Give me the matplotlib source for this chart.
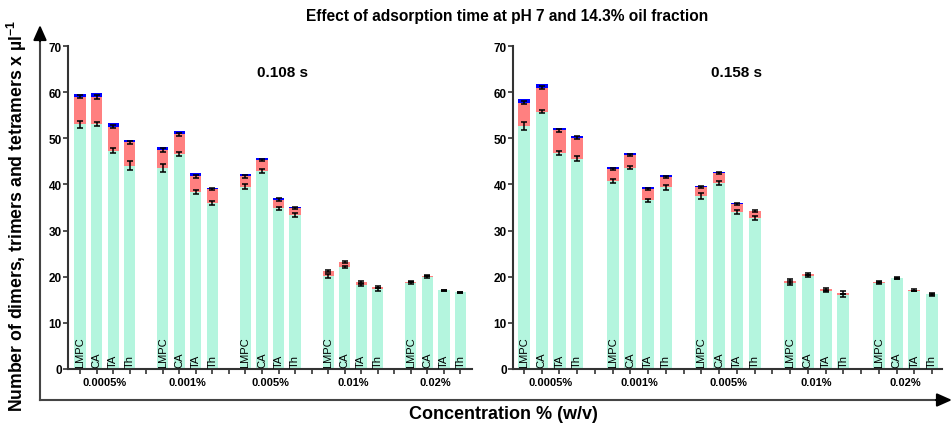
import matplotlib
matplotlib.use("Agg")
import numpy as np
import matplotlib.pyplot as plt

plt.rcParams["font.family"] = ["Liberation Sans", "DejaVu Sans"]
plt.rcParams["mathtext.fontset"] = "custom"
plt.rcParams["mathtext.rm"] = "Liberation Sans"
plt.rcParams["mathtext.bf"] = "Liberation Sans:bold"

# 資料
groups = ["0.0005%", "0.001%", "0.005%", "0.01%", "0.02%"]
surfactants = ["LMPC", "CA", "TA", "Th"]

# 0.108 s
dimers_108 = [53.0, 53.1, 47.3, 44.1, 43.6, 46.6, 38.4, 36.0, 39.5, 42.9, 34.8, 33.4,
              20.2, 22.1, 18.2, 17.3, 18.7, 19.9, 17.1, 16.6]
trimers_108 = [6.0, 5.9, 5.2, 5.0, 3.9, 4.3, 3.4, 3.0, 2.3, 2.4, 1.9, 1.5,
               1.0, 1.1, 0.7, 0.5, 0.2, 0.3, 0.0, 0.0]
tetramers_108 = [0.6, 0.8, 0.8, 0.5, 0.6, 0.7, 0.7, 0.2, 0.5, 0.4, 0.4, 0.2,
                 0.0, 0.0, 0.0, 0.0, 0.0, 0.0, 0.0, 0.0]
dimers_err_108 = [0.8, 0.5, 0.5, 0.9, 0.8, 0.5, 0.4, 0.4, 0.5, 0.5, 0.4, 0.4,
                  0.4, 0.3, 0.3, 0.3, 0.2, 0.2, 0.1, 0.1]
total_err_108 = [0.3, 0.4, 0.3, 0.3, 0.4, 0.3, 0.3, 0.2, 0.3, 0.3, 0.3, 0.2,
                 0.2, 0.2, 0.2, 0.2, 0.1, 0.1, 0.1, 0.1]

# 0.158 s
dimers_158 = [52.7, 55.8, 46.8, 45.6, 40.7, 43.6, 36.6, 39.4, 37.5, 40.3, 34.0, 32.7,
              18.6, 20.2, 16.9, 16.0, 18.6, 19.7, 16.9, 16.2]
trimers_158 = [5.0, 5.2, 4.9, 4.5, 2.6, 2.8, 2.4, 2.2, 1.9, 2.2, 1.8, 1.5,
               0.5, 0.4, 0.4, 0.5, 0.2, 0.0, 0.2, 0.0]
tetramers_158 = [0.8, 0.8, 0.5, 0.4, 0.5, 0.4, 0.4, 0.4, 0.3, 0.2, 0.2, 0.0,
                 0.0, 0.0, 0.0, 0.0, 0.0, 0.0, 0.0, 0.0]
dimers_err_158 = [0.8, 0.4, 0.4, 0.5, 0.4, 0.3, 0.3, 0.5, 0.6, 0.4, 0.4, 0.5,
                  0.4, 0.2, 0.3, 0.3, 0.2, 0.2, 0.1, 0.3]
total_err_158 = [0.3, 0.3, 0.4, 0.3, 0.2, 0.2, 0.2, 0.3, 0.2, 0.2, 0.2, 0.2,
                 0.4, 0.2, 0.3, 0.3, 0.2, 0.1, 0.2, 0.1]

GREEN = "#b4f5de"
RED = "#ff8080"
BLUE = "#0000ff"
AXIS_COLOR = "#333333"


def bar_positions():
    pos = []
    for g in range(len(groups)):
        for i in range(len(surfactants)):
            pos.append(g * 5 + i)
    return np.array(pos)


def draw_panel(ax, dimers, trimers, tetramers, d_err, t_err, title, title_x, xlim):
    x = bar_positions()
    dimers = np.array(dimers)
    trimers = np.array(trimers)
    tetramers = np.array(tetramers)
    w = 0.68

    ax.bar(x, dimers, width=w, color=GREEN, zorder=2)
    ax.bar(x, trimers, width=w, bottom=dimers, color=RED, zorder=2)
    ax.bar(x, tetramers, width=w, bottom=dimers + trimers, color=BLUE, zorder=2)

    ekw = dict(fmt="none", ecolor="black", elinewidth=1.1, capsize=2, capthick=1.1, zorder=3)
    ax.errorbar(x, dimers, yerr=d_err, **ekw)
    ax.errorbar(x, dimers + trimers, yerr=t_err, **ekw)

    # 長條內的名稱
    for i, xi in enumerate(x):
        ax.text(xi, 0.4, surfactants[i % 4], rotation=90, ha="center", va="bottom",
                fontsize=8, zorder=4)

    # 組別標籤
    for g, name in enumerate(groups):
        ax.text(g * 5 + 1.5, -2.8, name, ha="center", va="center",
                fontsize=8, fontweight="bold")

    ax.text(title_x, 0.92, title, transform=ax.transAxes, ha="center", va="center",
            fontsize=11, fontweight="bold")

    ax.set_xlim(*xlim)
    ax.set_ylim(0, 70)
    ax.set_yticks(range(0, 71, 10))
    ax.set_xticks(np.arange(24))
    ax.set_xticklabels([])
    for lab in ax.get_yticklabels():
        lab.set_fontweight("bold")
        lab.set_fontsize(8.5)
    ax.tick_params(axis="both", direction="out", length=3.5, width=1.2, color=AXIS_COLOR, pad=1)
    for s in ["top", "right"]:
        ax.spines[s].set_visible(False)
    for s in ["left", "bottom"]:
        ax.spines[s].set_linewidth(1.5)
        ax.spines[s].set_color(AXIS_COLOR)


def main():
    W, H = 952, 427
    fig = plt.figure(figsize=(W / 100, H / 100), dpi=100)

    # 外框箭頭
    over = fig.add_axes([0, 0, 1, 1])
    over.set_xlim(0, W)
    over.set_ylim(H, 0)
    over.axis("off")
    over.plot([40, 40], [401, 40], color="#444444", lw=1.5)
    over.plot([40, 938], [401, 401], color="#444444", lw=1.5)
    over.annotate("", xy=(40, 26), xytext=(40, 42),
                  arrowprops=dict(arrowstyle="-|>,head_length=0.9,head_width=0.4",
                                  color="black", lw=1.5, shrinkA=0, shrinkB=0))
    over.annotate("", xy=(952, 401), xytext=(936, 401),
                  arrowprops=dict(arrowstyle="-|>,head_length=0.9,head_width=0.4",
                                  color="black", lw=1.5, shrinkA=0, shrinkB=0))

    bottom = 1 - 370 / H
    height = 323 / H
    ax1 = fig.add_axes([68 / W, bottom, 404 / W, height])
    ax2 = fig.add_axes([513 / W, bottom, 429 / W, height])

    draw_panel(ax1, dimers_108, trimers_108, tetramers_108, dimers_err_108, total_err_108,
               "0.108 s", 0.532, (-0.73, 23.7))
    draw_panel(ax2, dimers_158, trimers_158, tetramers_158, dimers_err_158, total_err_158,
               "0.158 s", 0.522, (-0.62, 23.56))

    fig.text(507 / W, 1 - 16 / H, "Effect of adsorption time at pH 7 and 14.3% oil fraction",
             ha="center", va="center", fontsize=11.2, fontweight="bold")
    fig.text(17 / W, 1 - 216 / H,
             r"Number of dimers, trimers and tetramers x µl$^{\mathbf{-1}}$",
             rotation=90, ha="center", va="center", fontsize=12.7, fontweight="bold")
    fig.text(503 / W, 1 - 415 / H, "Concentration % (w/v)",
             ha="center", va="center", fontsize=13, fontweight="bold")

    fig.savefig("out.png", dpi=100)


if __name__ == "__main__":
    main()
